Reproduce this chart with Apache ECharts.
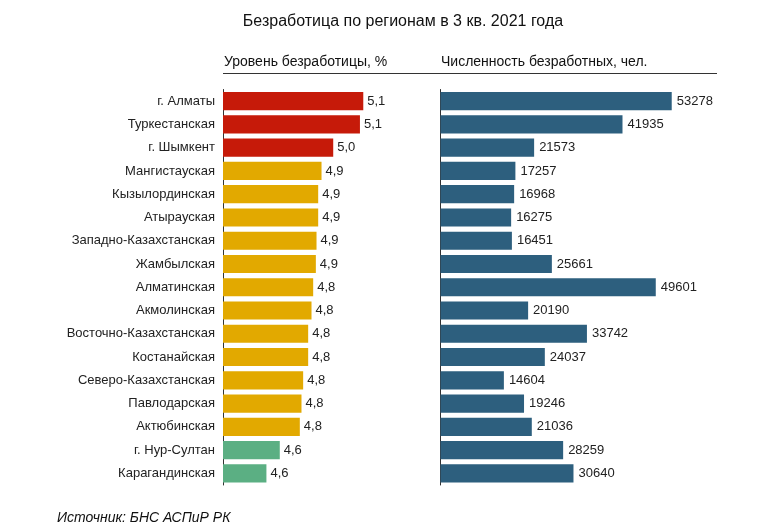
<!DOCTYPE html>
<html><head><meta charset="utf-8">
<script src="https://cdn.jsdelivr.net/npm/echarts@6/dist/echarts.min.js"></script>
<style>html,body{margin:0;padding:0;background:#fff}#c{width:769px;height:528px}</style>
</head><body><div id="c"></div>
<script>
const regions = ["г. Алматы","Туркестанская","г. Шымкент","Мангистауская","Кызылординская","Атырауская","Западно-Казахстанская","Жамбылская","Алматинская","Акмолинская","Восточно-Казахстанская","Костанайская","Северо-Казахстанская","Павлодарская","Актюбинская","г. Нур-Султан","Карагандинская"];
const rate = [5.14,5.12,4.96,4.89,4.87,4.87,4.86,4.856,4.84,4.83,4.81,4.81,4.78,4.77,4.76,4.64,4.56];
const unemployed = [53278,41935,21573,17257,16968,16275,16451,25661,49601,20190,33742,24037,14604,19246,21036,28259,30640];

const FONT = '"Liberation Sans", Arial, sans-serif';
function rateColor(v){
  const r = Math.round(v*10)/10;
  if (r >= 5.0) return '#C61A09';
  if (r >= 4.7) return '#E2A900';
  return '#5BAF83';
}
function fmtRate(v){
  return (Math.round(v*10)/10).toFixed(1).replace('.', ',');
}
const chart = echarts.init(document.getElementById('c'), null, {renderer:'canvas'});
chart.setOption({
  animation:false,
  textStyle:{fontFamily:FONT},
  title:[
    {text:'Безработица по регионам в 3 кв. 2021 года', left:403, top:14, textAlign:'center', padding:0,
     textStyle:{fontSize:16, fontWeight:'normal', color:'#111', fontFamily:FONT}},
    {text:'Уровень безработицы, %', left:224, top:55, padding:0,
     textStyle:{fontSize:14, fontWeight:'normal', color:'#111', fontFamily:FONT}},
    {text:'Численность безработных, чел.', left:441, top:55, padding:0,
     textStyle:{fontSize:14, fontWeight:'normal', color:'#111', fontFamily:FONT}},
    {text:'Источник: БНС АСПиР РК', left:57, top:511, padding:0,
     textStyle:{fontSize:14, fontStyle:'italic', fontWeight:'normal', color:'#111', fontFamily:FONT}}
  ],
  graphic:[
    {type:'line', shape:{x1:223, y1:73.5, x2:717, y2:73.5}, style:{stroke:'#333', lineWidth:1}}
  ],
  grid:[
    {left:223, top:89.5, width:167, height:395.5},
    {left:440.5, top:89.5, width:260.4, height:395.5}
  ],
  xAxis:[
    {gridIndex:0, type:'value', min:4.3, max:5.3, show:false},
    {gridIndex:1, type:'value', min:0, max:60000, show:false}
  ],
  yAxis:[
    {gridIndex:0, type:'category', data:regions, inverse:true,
     axisLine:{show:true, lineStyle:{color:'#333', width:1}}, axisTick:{show:false},
     axisLabel:{margin:8, fontSize:13, color:'#222', fontFamily:FONT}},
    {gridIndex:1, type:'category', data:regions, inverse:true,
     axisLine:{show:true, lineStyle:{color:'#333', width:1}}, axisTick:{show:false},
     axisLabel:{show:false}}
  ],
  series:[
    {type:'bar', xAxisIndex:0, yAxisIndex:0, barCategoryGap:'22%',
     data: rate.map(v => ({value:v, itemStyle:{color:rateColor(v)}})),
     label:{show:true, position:'right', distance:4, fontSize:13, color:'#222', fontFamily:FONT,
       formatter: p => fmtRate(p.value)}},
    {type:'bar', xAxisIndex:1, yAxisIndex:1, barCategoryGap:'22%',
     data: unemployed, itemStyle:{color:'#2D5F7E'},
     label:{show:true, position:'right', distance:5, fontSize:13, color:'#222', fontFamily:FONT}}
  ]
});
</script></body></html>
